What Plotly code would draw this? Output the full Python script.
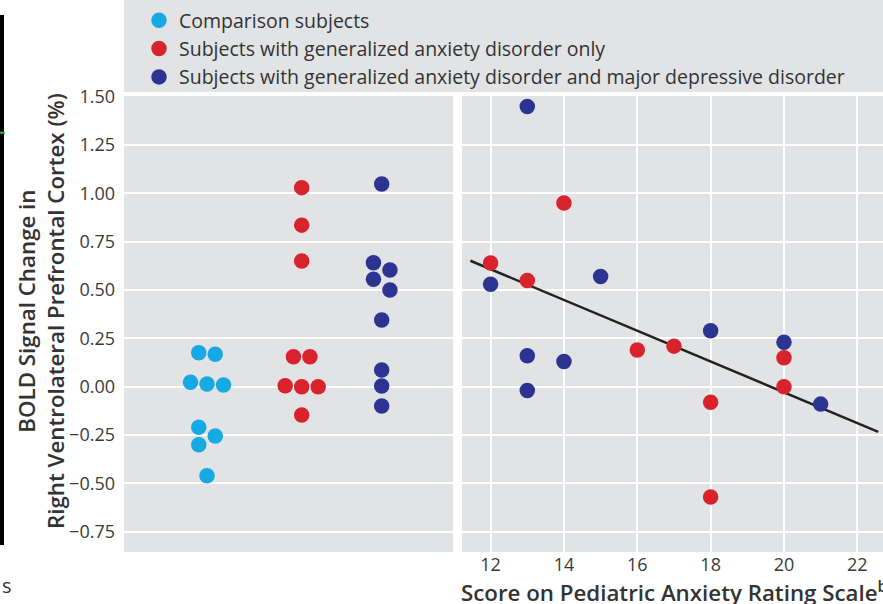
import numpy as np
import plotly.graph_objects as go

# ---------------- data ----------------
group_names = [
    "Comparison subjects",
    "Subjects with generalized anxiety disorder only",
    "Subjects with generalized anxiety disorder and major depressive disorder",
]
group_colors = ["#16a9e4", "#d8232c", "#2c3391"]

# left panel: BOLD signal change (%) by group
comparison_bold = [0.176, 0.168, 0.023, 0.014, 0.009, -0.21, -0.255, -0.30, -0.46]
gad_bold = [1.03, 0.836, 0.650, 0.155, 0.155, 0.005, 0.0, 0.0, -0.146]
gad_mdd_bold = [1.049, 0.641, 0.604, 0.556, 0.500, 0.345, 0.086, 0.004, -0.10]

# right panel: PARS score vs BOLD signal change
gad_pars = [12, 13, 14, 16, 17, 20, 20, 18, 18]
gad_pars_bold = [0.64, 0.55, 0.95, 0.19, 0.21, 0.15, 0.00, -0.08, -0.57]
gad_mdd_pars = [12, 13, 15, 18, 20, 13, 14, 13, 21]
gad_mdd_pars_bold = [0.53, 1.45, 0.57, 0.29, 0.23, 0.16, 0.13, -0.02, -0.09]

y_tick_vals = [-0.75, -0.50, -0.25, 0.0, 0.25, 0.50, 0.75, 1.00, 1.25, 1.50]
x_tick_vals = [12, 14, 16, 18, 20, 22]

# ---------------- layout constants ----------------
W, H = 883, 604
ML, MR, MT, MB = 124, 0, 96, 52
PW, PH = W - ML - MR, H - MT - MB
Y_RANGE = [-0.855, 1.504]
PPU = PH / (Y_RANGE[1] - Y_RANGE[0])  # pixels per unit on y
LEFT_W = 329  # px width of left panel
GAP_END = 338  # px where right panel starts
group_centers = [83, 177.7, 257.7]  # px within left panel
BG = "#e2e3e5"
TXT = "#3a3a3a"
FONT = "Open Sans"
MSIZE = 15.5
STEP = 16.5


def swarm(values, step=STEP, tol=0.05, ppu=PPU, diam=15.5):
    order = sorted(range(len(values)), key=lambda i: -values[i])
    rows = []
    for i in order:
        if rows and abs(values[rows[-1][0]] - values[i]) <= tol:
            rows[-1].append(i)
        else:
            rows.append([i])
    offs = [0.0] * len(values)
    placed = []
    for row in rows:
        n = len(row)
        base = [(k - (n - 1) / 2) * step for k in range(n)]
        chosen = 0
        for shift in [0, -step / 2, step / 2, -step, step, -1.5 * step, 1.5 * step]:
            ok = all(
                (b + shift - px) ** 2 + ((values[i] - pv) * ppu) ** 2 >= diam ** 2 - 1e-6
                for i, b in zip(row, base)
                for px, pv in placed
            )
            if ok:
                chosen = shift
                break
        for i, b in zip(row, base):
            offs[i] = b + chosen
            placed.append((b + chosen, values[i]))
    return offs


fig = go.Figure()

left_sets = [comparison_bold, gad_bold, gad_mdd_bold]
for name, col, vals, cx in zip(group_names, group_colors, left_sets, group_centers):
    offs = swarm(vals)
    fig.add_trace(go.Scatter(
        x=[cx + o for o in offs], y=vals, mode="markers", name=name,
        marker=dict(color=col, size=MSIZE, line=dict(width=0)),
        xaxis="x", yaxis="y", showlegend=True,
    ))

# regression line over all right-panel subjects
all_x = np.array(gad_pars + gad_mdd_pars, dtype=float)
all_y = np.array(gad_pars_bold + gad_mdd_pars_bold, dtype=float)
slope, intercept = np.polyfit(all_x, all_y, 1)
line_x = np.array([11.45, 22.57])
fig.add_trace(go.Scatter(
    x=line_x, y=slope * line_x + intercept, mode="lines",
    line=dict(color="#222222", width=2.5), xaxis="x2", yaxis="y2",
    showlegend=False, hoverinfo="skip",
))

for col, xs, ys in [(group_colors[1], gad_pars, gad_pars_bold),
                    (group_colors[2], gad_mdd_pars, gad_mdd_pars_bold)]:
    fig.add_trace(go.Scatter(
        x=xs, y=ys, mode="markers", marker=dict(color=col, size=MSIZE, line=dict(width=0)),
        xaxis="x2", yaxis="y2", showlegend=False,
    ))

px2p_x = lambda px: (px - ML) / PW
px2p_y = lambda py: (H - MB - py) / PH

shapes = [
    # gray legend band
    dict(type="rect", xref="paper", yref="paper", x0=0, x1=1.01,
         y0=px2p_y(92), y1=px2p_y(-2), fillcolor=BG, line=dict(width=0), layer="below"),
    # neighbouring-panel remnants at left edge
    dict(type="rect", xref="paper", yref="paper", x0=px2p_x(-2), x1=px2p_x(4),
         y0=px2p_y(545), y1=px2p_y(15), fillcolor="#000000", line=dict(width=0)),
    dict(type="line", xref="paper", yref="paper", x0=px2p_x(0), x1=px2p_x(5),
         y0=px2p_y(132.7), y1=px2p_y(132.7), line=dict(color="#3cb44a", width=2)),
]

TITLE_FONT = dict(family=FONT, size=22.3, color="#333333", weight=600)
annotations = [
    dict(text="BOLD Signal Change in<br>Right Ventrolateral Prefrontal Cortex (%)",
         xref="paper", yref="paper", x=px2p_x(41), y=px2p_y(311),
         xanchor="center", yanchor="middle", textangle=-90, showarrow=False,
         font=TITLE_FONT),
    dict(text="Score on Pediatric Anxiety Rating Scale<sup>b</sup>",
         xref="paper", yref="paper", x=px2p_x(459), y=px2p_y(591),
         xanchor="left", yanchor="middle", showarrow=False,
         font=TITLE_FONT),
    dict(text="s", xref="paper", yref="paper", x=px2p_x(0), y=px2p_y(585),
         xanchor="left", yanchor="middle", showarrow=False,
         font=dict(family=FONT, size=20, color="#333333")),
]

fig.update_layout(
    width=W, height=H,
    margin=dict(l=ML, r=MR, t=MT, b=MB, pad=0),
    paper_bgcolor="white", plot_bgcolor=BG,
    font=dict(family=FONT, color=TXT),
    showlegend=True,
    legend=dict(x=px2p_x(139), y=px2p_y(1), xanchor="left", yanchor="top",
                bgcolor="rgba(0,0,0,0)", font=dict(family=FONT, size=19.5, color="#333333"),
                itemsizing="trace", tracegroupgap=0),
    xaxis=dict(domain=[0, LEFT_W / PW], range=[0, LEFT_W], showgrid=False,
               showticklabels=False, zeroline=False, showline=False, ticks=""),
    yaxis=dict(domain=[0, 1], range=Y_RANGE, tickvals=y_tick_vals, tickformat=".2f",
               showgrid=True, gridcolor="white", gridwidth=2, zeroline=False,
               ticks="", tickfont=dict(family=FONT, size=18, color=TXT), ticklabelstandoff=8),
    xaxis2=dict(domain=[GAP_END / PW, 1], range=[11.22, 22.70], tickvals=x_tick_vals,
                showgrid=True, gridcolor="white", gridwidth=2, zeroline=False, ticks="",
                tickfont=dict(family=FONT, size=18, color=TXT), anchor="y2"),
    yaxis2=dict(domain=[0, 1], range=Y_RANGE, tickvals=y_tick_vals, matches="y",
                showgrid=True, gridcolor="white", gridwidth=2, zeroline=False,
                showticklabels=False, ticks="", anchor="x2"),
    shapes=shapes, annotations=annotations,
)

fig.write_html("out.html", post_script="document.body.style.margin='0';",
               config={"displayModeBar": False})
